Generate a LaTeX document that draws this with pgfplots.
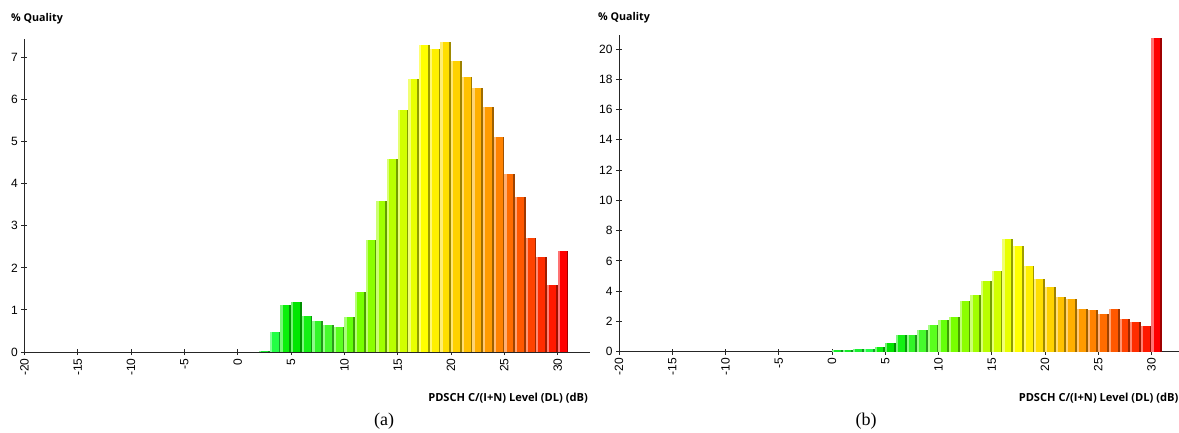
\documentclass[border=0pt]{standalone}
\usepackage{pgfplots}
\pgfplotsset{compat=1.18}
\usepackage{fontspec}
\setmainfont{Liberation Serif}
\newfontfamily\ticksf{Liberation Sans}
\newfontfamily\labsf{Open Sans}

% colours of the bar that spans [k,k+1] dB
\definecolor{q0}{RGB}{20,235,40}
\definecolor{q1}{RGB}{20,235,40}
\definecolor{q2}{RGB}{25,240,50}
\definecolor{q3}{RGB}{35,255,70}
\definecolor{q4}{RGB}{10,240,10}
\definecolor{q5}{RGB}{0,230,0}
\definecolor{q6}{RGB}{20,240,20}
\definecolor{q7}{RGB}{50,245,40}
\definecolor{q8}{RGB}{70,250,45}
\definecolor{q9}{RGB}{90,255,30}
\definecolor{q10}{RGB}{100,255,10}
\definecolor{q11}{RGB}{120,255,0}
\definecolor{q12}{RGB}{140,255,0}
\definecolor{q13}{RGB}{160,255,0}
\definecolor{q14}{RGB}{185,255,0}
\definecolor{q15}{RGB}{210,255,0}
\definecolor{q16}{RGB}{232,255,0}
\definecolor{q17}{RGB}{255,255,0}
\definecolor{q18}{RGB}{255,240,0}
\definecolor{q19}{RGB}{255,222,0}
\definecolor{q20}{RGB}{255,210,0}
\definecolor{q21}{RGB}{255,193,0}
\definecolor{q22}{RGB}{255,175,0}
\definecolor{q23}{RGB}{255,155,0}
\definecolor{q24}{RGB}{255,130,0}
\definecolor{q25}{RGB}{255,108,0}
\definecolor{q26}{RGB}{255,88,0}
\definecolor{q27}{RGB}{255,66,0}
\definecolor{q28}{RGB}{255,45,0}
\definecolor{q29}{RGB}{255,25,0}
\definecolor{q30}{RGB}{255,0,0}

% #1 colour index, #2 bar centre (dB), #3 value (%)
\newcommand\qbar[3]{%
\addplot[ybar, bar width=1, bar shift=0, draw=none, fill=q#1] coordinates {(#2,#3)};
\addplot[ybar, bar width=0.2, bar shift=-0.4, draw=none, fill=q#1!55!white] coordinates {(#2,#3)};
\addplot[ybar, bar width=0.17, bar shift=0.415, draw=none, fill=q#1!62!black] coordinates {(#2,#3)};
}

\pgfplotsset{
  qualstyle/.style={
    scale only axis,
    axis x line*=bottom,
    axis y line*=left,
    axis line style={-, line width=1pt, black!85},
    tick style={line width=0.9pt, black!85},
    tick align=center,
    major tick length=6pt,
    xtick pos=bottom, ytick pos=left,
    xtick={-20,-15,...,30},
    xticklabel style={rotate=90, anchor=east},
    tick label style={font=\fontsize{12}{13}\selectfont\ticksf},
    /pgf/number format/assume math mode=true,
    clip=false,
  },
}

\begin{document}
\begin{tikzpicture}

\begin{axis}[qualstyle,
  at={(24.4pt,80pt)}, anchor=south west,
  width=565.3pt, height=312.7pt,
  xmin=-20, xmax=33, ymin=0, ymax=7.43,
  ytick={0,1,...,7},
]
\qbar{2}{2.5}{0.02}
\qbar{3}{3.5}{0.47}
\qbar{4}{4.5}{1.11}
\qbar{5}{5.5}{1.18}
\qbar{6}{6.5}{0.85}
\qbar{7}{7.5}{0.73}
\qbar{8}{8.5}{0.63}
\qbar{9}{9.5}{0.59}
\qbar{10}{10.5}{0.83}
\qbar{11}{11.5}{1.43}
\qbar{12}{12.5}{2.67}
\qbar{13}{13.5}{3.59}
\qbar{14}{14.5}{4.59}
\qbar{15}{15.5}{5.76}
\qbar{16}{16.5}{6.49}
\qbar{17}{17.5}{7.30}
\qbar{18}{18.5}{7.20}
\qbar{19}{19.5}{7.37}
\qbar{20}{20.5}{6.92}
\qbar{21}{21.5}{6.54}
\qbar{22}{22.5}{6.28}
\qbar{23}{23.5}{5.83}
\qbar{24}{24.5}{5.11}
\qbar{25}{25.5}{4.24}
\qbar{26}{26.5}{3.69}
\qbar{27}{27.5}{2.72}
\qbar{28}{28.5}{2.26}
\qbar{29}{29.5}{1.60}
\qbar{30}{30.5}{2.41}
\end{axis}

\begin{axis}[qualstyle,
  at={(619pt,80.3pt)}, anchor=south west,
  width=559.5pt, height=316.7pt,
  xmin=-20, xmax=32.54, ymin=0, ymax=20.93,
  ytick={0,2,...,20},
]
\qbar{0}{0.5}{0.11}
\qbar{1}{1.5}{0.12}
\qbar{2}{2.5}{0.18}
\qbar{3}{3.5}{0.18}
\qbar{4}{4.5}{0.31}
\qbar{5}{5.5}{0.57}
\qbar{6}{6.5}{1.10}
\qbar{7}{7.5}{1.08}
\qbar{8}{8.5}{1.43}
\qbar{9}{9.5}{1.76}
\qbar{10}{10.5}{2.09}
\qbar{11}{11.5}{2.27}
\qbar{12}{12.5}{3.35}
\qbar{13}{13.5}{3.74}
\qbar{14}{14.5}{4.67}
\qbar{15}{15.5}{5.33}
\qbar{16}{16.5}{7.42}
\qbar{17}{17.5}{6.98}
\qbar{18}{18.5}{5.66}
\qbar{19}{19.5}{4.80}
\qbar{20}{20.5}{4.27}
\qbar{21}{21.5}{3.61}
\qbar{22}{22.5}{3.48}
\qbar{23}{23.5}{2.82}
\qbar{24}{24.5}{2.75}
\qbar{25}{25.5}{2.51}
\qbar{26}{26.5}{2.82}
\qbar{27}{27.5}{2.16}
\qbar{28}{28.5}{1.96}
\qbar{29}{29.5}{1.70}
\qbar{30}{30.5}{20.73}
\end{axis}

\node[anchor=west, inner sep=0, font=\fontsize{10.7}{12}\selectfont\labsf\bfseries] at (11pt,413pt) {\% Quality};
\node[anchor=west, inner sep=0, font=\fontsize{10.7}{12}\selectfont\labsf\bfseries] at (598pt,414pt) {\% Quality};
\node[anchor=east, inner sep=0, font=\fontsize{11.1}{13}\selectfont\labsf\bfseries] at (588pt,34pt) {PDSCH C/(I+N) Level (DL) (dB)};
\node[anchor=east, inner sep=0, font=\fontsize{11.1}{13}\selectfont\labsf\bfseries] at (1178.5pt,34pt) {PDSCH C/(I+N) Level (DL) (dB)};
\node[inner sep=0, font=\fontsize{18}{20}\selectfont] at (384pt,11pt) {(a)};
\node[inner sep=0, font=\fontsize{18}{20}\selectfont] at (866pt,11pt) {(b)};

\pgfresetboundingbox
\useasboundingbox (0pt,0pt) rectangle (1179pt,432pt);
\end{tikzpicture}
\end{document}
